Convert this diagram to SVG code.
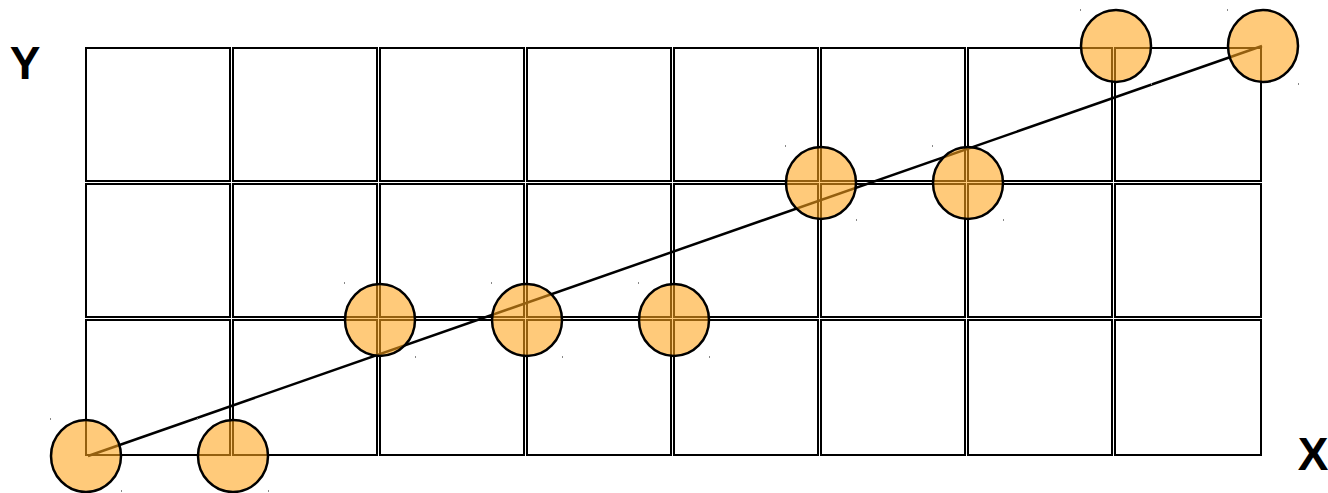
<svg xmlns="http://www.w3.org/2000/svg" width="1328" height="493" viewBox="0 0 1328 493">
<style>
.cell{fill:none;stroke:#000;stroke-width:2}
.pt{fill:#ffa31a;fill-opacity:0.58;stroke:#000;stroke-width:2.5}
.tick{fill:#888}
.lbl{font-family:"Liberation Sans",Arial,sans-serif;font-weight:bold;font-size:46px;fill:#000;text-anchor:middle}
</style>
<rect width="1328" height="493" fill="#fff"/>
<g id="grid">
<rect class="cell" x="86" y="48" width="144" height="133"/><rect class="cell" x="233" y="48" width="144" height="133"/><rect class="cell" x="380" y="48" width="144" height="133"/><rect class="cell" x="527" y="48" width="144" height="133"/><rect class="cell" x="674" y="48" width="144" height="133"/><rect class="cell" x="821" y="48" width="144" height="133"/><rect class="cell" x="968" y="48" width="144" height="133"/><rect class="cell" x="1115" y="48" width="146" height="133"/>
<rect class="cell" x="86" y="184" width="144" height="133"/><rect class="cell" x="233" y="184" width="144" height="133"/><rect class="cell" x="380" y="184" width="144" height="133"/><rect class="cell" x="527" y="184" width="144" height="133"/><rect class="cell" x="674" y="184" width="144" height="133"/><rect class="cell" x="821" y="184" width="144" height="133"/><rect class="cell" x="968" y="184" width="144" height="133"/><rect class="cell" x="1115" y="184" width="146" height="133"/>
<rect class="cell" x="86" y="320" width="144" height="135"/><rect class="cell" x="233" y="320" width="144" height="135"/><rect class="cell" x="380" y="320" width="144" height="135"/><rect class="cell" x="527" y="320" width="144" height="135"/><rect class="cell" x="674" y="320" width="144" height="135"/><rect class="cell" x="821" y="320" width="144" height="135"/><rect class="cell" x="968" y="320" width="144" height="135"/><rect class="cell" x="1115" y="320" width="146" height="135"/>
</g>
<g id="connectors">
<line x1="88" y1="456" x2="1262" y2="46" stroke="#000" stroke-width="2.5"/>
</g>
<g id="p1"><ellipse class="pt" cx="86" cy="456" rx="35" ry="36"/><rect class="tick" x="50" y="418" width="1" height="2"/><rect class="tick" x="121" y="490" width="1" height="2"/></g>
<g id="p2"><ellipse class="pt" cx="233" cy="456" rx="35" ry="36"/><rect class="tick" x="197" y="418" width="1" height="2"/><rect class="tick" x="268" y="490" width="1" height="2"/></g>
<g id="p3"><ellipse class="pt" cx="380" cy="320" rx="35" ry="36"/><rect class="tick" x="344" y="282" width="1" height="2"/><rect class="tick" x="415" y="356" width="1" height="2"/></g>
<g id="p4"><ellipse class="pt" cx="527" cy="320" rx="35" ry="36"/><rect class="tick" x="491" y="282" width="1" height="2"/><rect class="tick" x="562" y="356" width="1" height="2"/></g>
<g id="p5"><ellipse class="pt" cx="674" cy="320" rx="35" ry="36"/><rect class="tick" x="638" y="282" width="1" height="2"/><rect class="tick" x="709" y="356" width="1" height="2"/></g>
<g id="p6"><ellipse class="pt" cx="821" cy="183" rx="35" ry="36"/><rect class="tick" x="785" y="145" width="1" height="2"/><rect class="tick" x="856" y="219" width="1" height="2"/></g>
<g id="p7"><ellipse class="pt" cx="968" cy="183" rx="35" ry="36"/><rect class="tick" x="932" y="145" width="1" height="2"/><rect class="tick" x="1003" y="219" width="1" height="2"/></g>
<g id="p8"><ellipse class="pt" cx="1116" cy="46" rx="35" ry="36"/><rect class="tick" x="1080" y="9" width="1" height="2"/><rect class="tick" x="1151" y="83" width="1" height="2"/></g>
<g id="p9"><ellipse class="pt" cx="1263" cy="46" rx="35" ry="36"/><rect class="tick" x="1227" y="9" width="1" height="2"/><rect class="tick" x="1298" y="83" width="1" height="2"/></g>
<g id="labels">
<text class="lbl" x="25" y="79">Y</text>
<text class="lbl" x="1313" y="470">X</text>
</g>
</svg>
